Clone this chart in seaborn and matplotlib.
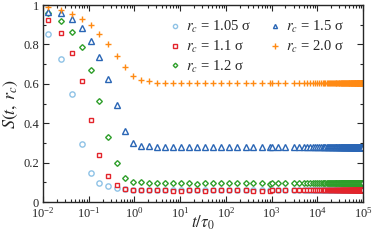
import numpy as np
import pandas as pd
import seaborn as sns
import matplotlib
matplotlib.use("Agg")
import matplotlib.pyplot as plt
from matplotlib.ticker import MultipleLocator, LogLocator, NullFormatter

t_log = [0.013, 0.025, 0.044, 0.071, 0.11, 0.17, 0.26, 0.41, 0.62, 0.92,
         1.38, 2.07, 3.1, 4.7, 7.0, 10.5, 15.7, 23.4, 35.1, 52.5,
         79, 119, 178, 269, 398, 603, 902, 1349]
# dense linear tail
t_tail = np.arange(1000, 100001, 1000)

s105 = [0.853, 0.726, 0.547, 0.293, 0.146, 0.095, 0.081, 0.071, 0.064, 0.062,
        0.061, 0.060, 0.060, 0.060, 0.059, 0.059, 0.060, 0.059, 0.059, 0.059,
        0.059, 0.059, 0.059, 0.059, 0.059, 0.059, 0.059, 0.059]
s110 = [0.924, 0.858, 0.755, 0.614, 0.416, 0.237, 0.134, 0.087, 0.066, 0.062,
        0.062, 0.060, 0.060, 0.060, 0.056, 0.056, 0.060, 0.060, 0.055, 0.060,
        0.060, 0.061, 0.060, 0.061, 0.058, 0.058, 0.055, 0.059]
s120 = [0.958, 0.919, 0.865, 0.785, 0.670, 0.514, 0.332, 0.196, 0.120, 0.100,
        0.100, 0.098, 0.095, 0.095, 0.095, 0.095, 0.095, 0.093, 0.095, 0.095,
        0.095, 0.095, 0.095, 0.095, 0.095, 0.095, 0.094, 0.095]
s150 = [0.964, 0.958, 0.927, 0.882, 0.819, 0.735, 0.626, 0.491, 0.362, 0.298,
        0.286, 0.284, 0.281, 0.279, 0.279, 0.279, 0.279, 0.279, 0.279, 0.279,
        0.279, 0.279, 0.279, 0.279, 0.280, 0.280, 0.279, 0.280]
s200 = [0.990, 0.975, 0.954, 0.929, 0.898, 0.853, 0.802, 0.741, 0.684, 0.638,
        0.618, 0.613, 0.606, 0.604, 0.603, 0.603, 0.603, 0.603, 0.603, 0.603,
        0.603, 0.603, 0.603, 0.603, 0.603, 0.603, 0.603, 0.603]

# plateau values in the long time tail
plateau = [0.059, 0.060, 0.095, 0.280, 0.603]

labels = [r"$r_c$ = 1.05 σ", r"$r_c$ = 1.1 σ", r"$r_c$ = 1.2 σ",
          r"$r_c$ = 1.5 σ", r"$r_c$ = 2.0 σ"]
colors = ["#8fc3e6", "#e3242b", "#2e9e2a", "#2a66b5", "#ff8a14"]
markers = ["o", "s", "D", "^", "+"]
sizes = [3.8, 3.4, 2.9, 3.7, 5.0]

sns.set_style("ticks")
plt.rcParams["font.family"] = ["Liberation Serif", "DejaVu Serif"]
plt.rcParams["mathtext.fontset"] = "stix"

fig = plt.figure(figsize=(3.74, 2.40), dpi=100)
ax = fig.add_axes([0.115, 0.158, 0.856, 0.821])

series = [s105, s110, s120, s150, s200]
for i in range(5):
    t = np.concatenate([t_log, t_tail])
    s = np.concatenate([series[i], np.full(len(t_tail), plateau[i])])
    df = pd.DataFrame({"t": t, "S": s})
    sns.lineplot(data=df, x="t", y="S", ax=ax, estimator=None, errorbar=None,
                 linestyle="", marker=markers[i], markersize=sizes[i],
                 markerfacecolor="white" if markers[i] != "+" else colors[i],
                 markeredgecolor=colors[i], markeredgewidth=1.0,
                 color=colors[i], label=labels[i])

ax.set_xscale("log")
ax.set_xlim(1e-2, 1e5)
ax.set_ylim(0, 1)
ax.yaxis.set_major_locator(MultipleLocator(0.2))
ax.yaxis.set_minor_locator(MultipleLocator(0.1))
ax.set_yticks([0, 0.2, 0.4, 0.6, 0.8, 1.0])
ax.set_yticklabels(["0", "0.2", "0.4", "0.6", "0.8", "1"])
ax.xaxis.set_major_locator(LogLocator(base=10, numticks=20))
ax.xaxis.set_minor_locator(LogLocator(base=10, subs=np.arange(2, 10), numticks=100))
ax.xaxis.set_minor_formatter(NullFormatter())

ax.tick_params(which="both", direction="in", top=True, right=True,
               labelsize=9, width=0.8)
ax.tick_params(which="major", length=4, pad=3)
ax.tick_params(which="minor", length=2)
for sp in ax.spines.values():
    sp.set_linewidth(1.0)

ax.set_xlabel(r"$t/\tau_0$", fontsize=12, labelpad=-5)
ax.set_ylabel(r"$S(t,\, r_c)$", fontsize=13, labelpad=2)

ax.legend(ncol=2, frameon=False, loc="upper left",
          bbox_to_anchor=(168 / 374, 1 - 19 / 240),
          bbox_transform=fig.transFigure, fontsize=10.5, markerscale=0.8,
          handlelength=1.0, handletextpad=0.25, columnspacing=1.1,
          labelspacing=0.25, borderpad=0, borderaxespad=0)

fig.savefig("out.png", dpi=100)
